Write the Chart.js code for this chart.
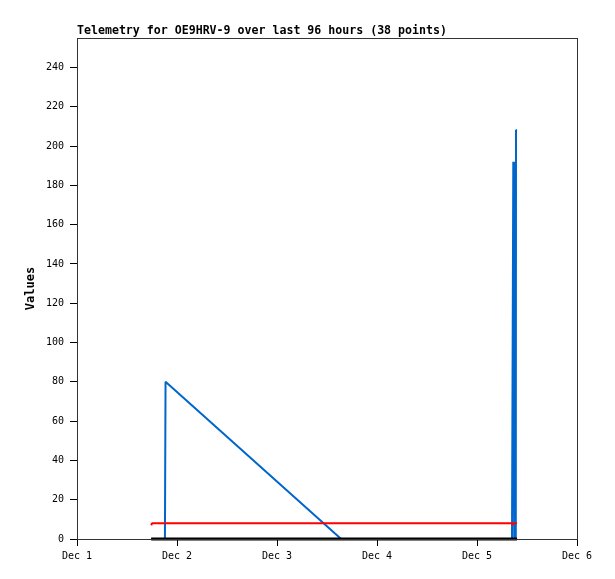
<!DOCTYPE html>
<html>
<head>
<meta charset="utf-8">
<title>Telemetry OE9HRV-9</title>
<script src="https://cdn.jsdelivr.net/npm/chart.js@4/dist/chart.umd.min.js"></script>
<style>
    body { margin: 0; background: #fff; }
    #wrap { width: 615px; height: 579px; }
</style>
</head>
<body>
<div id="wrap"><canvas id="telemetryCanvas"></canvas></div>
<script>
// hours since Dec 1 00:00
const hours = [17.8, 18.0, 19.5, 21.1, 21.25, 63.4, 80.0, 95.0, 104.4,
    104.47, 104.71, 104.93, 105.12, 105.31, 105.36, 105.62];
const blueValues = [0, 0, 0, 0, 80, 0, 0, 0, 0, 0, 192, 0, 192, 0, 208, 208];
const redValues = [7, 8, 8, 8, 8, 8, 8, 8, 8, 7, 8, 8, 8, 8, 8, 8];
const blackValues = [0, 0, 0, 0, 0, 0, 0, 0, 0, 0, 0, 0, 0, 0, 0, 0];
const dayLabels = ['Dec 1', 'Dec 2', 'Dec 3', 'Dec 4', 'Dec 5', 'Dec 6'];
const chartTitle = 'Telemetry for OE9HRV-9 over last 96 hours (38 points)';

const monoFont = '"DejaVu Sans Mono", "Liberation Mono", monospace';

function toPoints(values) {
    return hours.map((h, i) => ({ x: h, y: values[i] }));
}

// full frame round the plot area
const framePlugin = {
    id: 'frame',
    afterDraw(chart) {
        const a = chart.chartArea;
        const ctx = chart.ctx;
        ctx.save();
        ctx.strokeStyle = '#333';
        ctx.lineWidth = 1;
        ctx.strokeRect(a.left + 0.5, a.top + 0.5, a.right - a.left, a.bottom - a.top);
        ctx.restore();
    }
};

const ctx = document.getElementById('telemetryCanvas').getContext('2d');

let telemetryChart = new Chart(ctx, {
    type: 'line',
    data: {
        datasets: [
            {
                label: 'black',
                data: toPoints(blackValues),
                borderColor: '#000',
                borderWidth: 3,
                pointRadius: 0,
                clip: false
            },
            {
                label: 'red',
                data: toPoints(redValues),
                borderColor: '#ff0000',
                borderWidth: 2,
                borderJoinStyle: 'bevel',
                pointRadius: 0
            },
            {
                label: 'blue',
                data: toPoints(blueValues),
                borderColor: '#0066cc',
                borderWidth: 2,
                borderJoinStyle: 'bevel',
                pointRadius: 0
            }
        ]
    },
    plugins: [framePlugin],
    options: {
        responsive: true,
        maintainAspectRatio: false,
        animation: false,
        devicePixelRatio: 1,
        layout: { padding: { left: 0, right: 38, top: 0, bottom: 0 } },
        plugins: {
            legend: { display: false },
            tooltip: { enabled: false },
            title: {
                display: true,
                text: chartTitle,
                align: 'start',
                fullSize: false,
                color: '#000',
                font: { family: monoFont, size: 11.6, weight: 'bold', lineHeight: '14px' },
                padding: { top: 24, bottom: 0 }
            }
        },
        scales: {
            x: {
                type: 'linear',
                min: 0,
                max: 120,
                afterFit: s => { s.height = 40; },
                grid: { drawOnChartArea: false, tickLength: 7, color: '#000' },
                border: { color: '#000' },
                ticks: {
                    stepSize: 24,
                    color: '#000',
                    padding: 4,
                    maxRotation: 0,
                    font: { family: monoFont, size: 10 },
                    callback: v => dayLabels[v / 24]
                }
            },
            y: {
                min: 0,
                max: 255,
                afterFit: s => { s.width = 77; },
                afterBuildTicks: s => { s.ticks = s.ticks.filter(t => t.value % 20 === 0); },
                grid: { drawOnChartArea: false, tickLength: 7, color: '#000' },
                border: { color: '#000' },
                ticks: {
                    stepSize: 20,
                    color: '#000',
                    padding: 6,
                    font: { family: monoFont, size: 10 }
                },
                title: {
                    display: true,
                    text: 'Values',
                    color: '#000',
                    font: { family: monoFont, size: 12, weight: 'bold' },
                    padding: { top: 24, bottom: 0 }
                }
            }
        }
    }
});
</script>
</body>
</html>
